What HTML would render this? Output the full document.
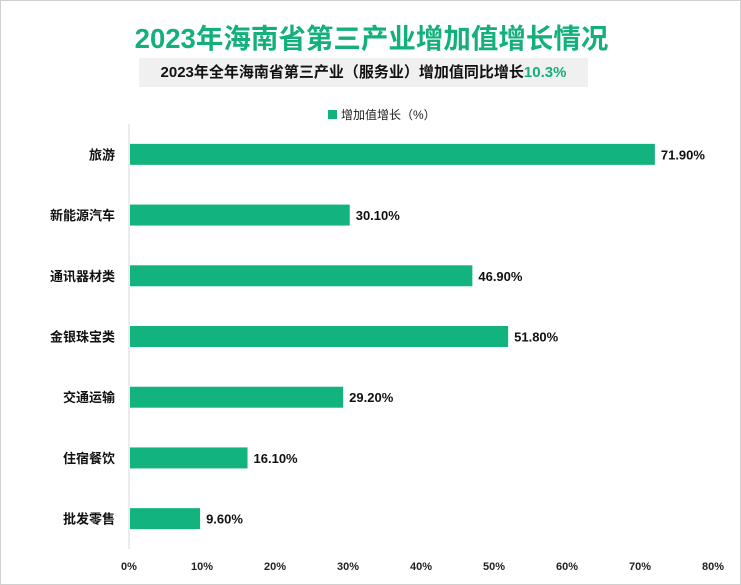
<!DOCTYPE html>
<html><head><meta charset="utf-8"><style>
body{margin:0;background:#fff;}
#wrap{position:relative;width:739px;height:583px;border:1px solid #d0d0d0;background:#fff;font-family:"Liberation Sans","Noto Sans CJK SC",sans-serif;overflow:hidden;}
#title{position:absolute;left:0;width:741px;top:15px;text-align:center;font-size:27.5px;font-weight:bold;color:#13b07b;}
#sub{position:absolute;left:138px;top:57px;width:449px;height:29px;background:#f0f0f0;text-align:center;line-height:29px;font-size:15px;font-weight:bold;color:#111;}
#sub span{color:#13b07b;}
svg{position:absolute;left:0;top:0;}
</style></head><body>
<div id="wrap">
<div id="title">2023年海南省第三产业增加值增长情况</div>
<div id="sub">2023年全年海南省第三产业（服务业）增加值同比增长<span>10.3%</span></div>
<svg id="chart" width="741" height="585"></svg>
</div>
<script>
const categories=["旅游","新能源汽车","通讯器材类","金银珠宝类","交通运输","住宿餐饮","批发零售"];
const values=[71.9,30.1,46.9,51.8,29.2,16.1,9.6];
const valueLabels=["71.90%","30.10%","46.90%","51.80%","29.20%","16.10%","9.60%"];
const ticks=[0,10,20,30,40,50,60,70,80];
const tickLabels=["0%","10%","20%","30%","40%","50%","60%","70%","80%"];
const NS="http://www.w3.org/2000/svg";
const svg=document.getElementById('chart');
const x0=128,x1=712,yTop=123,yBottom=548;
const xs=v=>x0+(v/80)*(x1-x0);
const band=(yBottom-yTop)/categories.length;
const yc=i=>yTop+band*(i+0.5);
function mk(t,a,txt){const e=document.createElementNS(NS,t);for(const k in a)e.setAttribute(k,a[k]);if(txt!=null)e.textContent=txt;svg.appendChild(e);return e;}
const ax=mk('line',{x1:x0,y1:yTop,x2:x0,y2:yBottom,stroke:'#d9d9d9'});


const lg=mk('rect',{x:327,y:109,width:9,height:9,fill:'#13b37f'});


const lt=mk('text',{x:340,y:118,'font-size':12,fill:'#222'},'增加值增长（%）');


categories.forEach((c,i)=>{
 const y=yc(i);
 const b=mk('rect',{x:x0+1,y:y-10.5,width:xs(values[i])-x0,height:21,fill:'#13b37f'});
 
 
 const l=mk('text',{x:x0-14,y:y+5,'font-size':13,'font-weight':'bold','text-anchor':'end',fill:'#111'},c);
 
 
 const v=mk('text',{x:xs(values[i])+7,y:y+5,'font-size':13,'font-weight':'bold',fill:'#111'},valueLabels[i]);
 
 
});
ticks.forEach((t,i)=>{
 const e=mk('text',{x:xs(t),y:569,'font-size':11,'font-weight':'bold','text-anchor':'middle',fill:'#222'},tickLabels[i]);
 
 
});
</script>
</body></html>
